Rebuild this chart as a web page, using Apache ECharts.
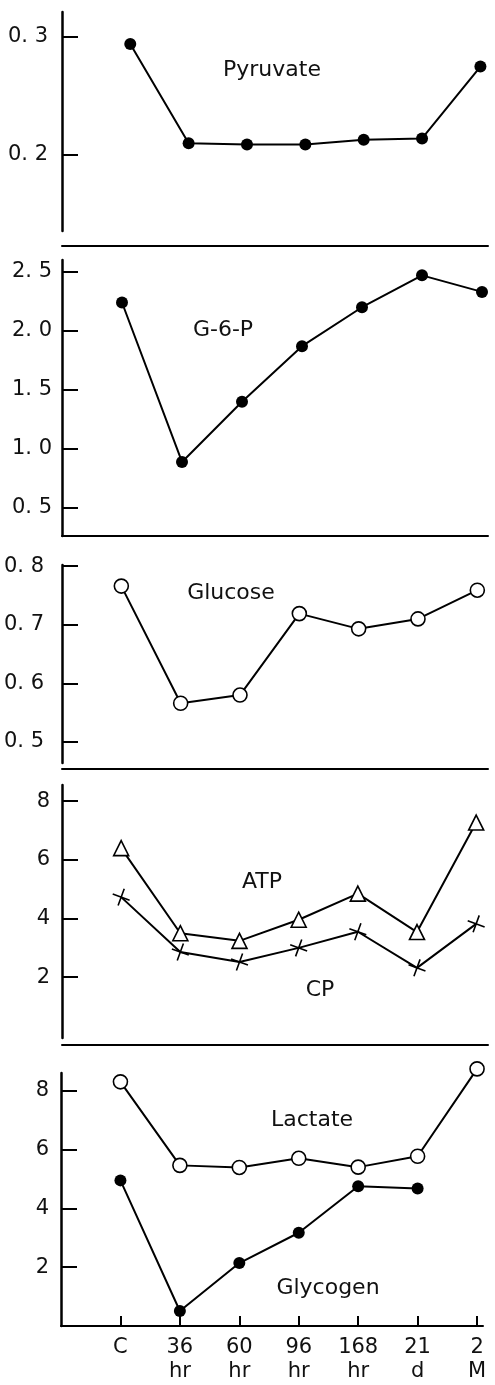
<!DOCTYPE html>
<html>
<head>
<meta charset="utf-8">
<script src="https://cdn.jsdelivr.net/npm/echarts@6/dist/echarts.min.js"></script>
<style>
  html, body { margin: 0; padding: 0; background: #fff; }
  #main { width: 495px; height: 1385px; }
</style>
</head>
<body>
<div id="main"></div>
<script>
// categories along the bottom axis
let categories = ['C', '36\nhr', '60\nhr', '96\nhr', '168\nhr', '21\nd', '2\nM'];

// values
let pyruvate = [0.294, 0.210, 0.209, 0.209, 0.213, 0.214, 0.275];
let g6p = [2.24, 0.89, 1.40, 1.87, 2.20, 2.47, 2.33];
let glucose = [0.766, 0.566, 0.580, 0.719, 0.693, 0.710, 0.759];
let atp = [6.4, 3.5, 3.24, 3.96, 4.85, 3.54, 7.27];
let cp = [4.73, 2.86, 2.52, 3.0, 3.55, 2.32, 3.82];
let lactate = [8.3, 5.46, 5.39, 5.7, 5.4, 5.77, 8.74];
let glycogen = [4.95, 0.51, 2.14, 3.17, 4.75, 4.67, null];

// y tick values per panel
let ticksPyruvate = [0.2, 0.3];
let ticksG6p = [0.5, 1.0, 1.5, 2.0, 2.5];
let ticksGlucose = [0.5, 0.6, 0.7, 0.8];
let ticksAtp = [2, 4, 6, 8];
let ticksLactate = [2, 4, 6, 8];
let xTicks = [0, 1, 2, 3, 4, 5, 6];

let font = 'DejaVu Sans';

function pairs(arr) {
    return arr.map(function (v, i) { return [i, v]; });
}
function dec(v) {
    return v.toFixed(1).replace('.', '. ');
}

function yAxis(idx, min, max, ticks, fmt, margin) {
    return {
        gridIndex: idx,
        type: 'value',
        min: min,
        max: max,
        axisLine: { show: true, onZero: false, lineStyle: { color: '#000', width: 2.5 } },
        axisTick: { show: true, inside: true, length: 16, customValues: ticks,
            lineStyle: { color: '#000', width: 2 } },
        axisLabel: { show: true, customValues: ticks, formatter: fmt, margin: margin,
            color: '#111', fontSize: 21, fontFamily: font },
        splitLine: { show: false }
    };
}

function xAxis(idx, min, max, offset) {
    return {
        gridIndex: idx,
        type: 'value',
        min: min,
        max: max,
        offset: offset,
        axisLine: { show: true, onZero: false, lineStyle: { color: '#000', width: 2 } },
        axisTick: { show: false },
        axisLabel: { show: false },
        splitLine: { show: false }
    };
}

let lineStyle = { color: '#000', width: 2 };
let filled = { color: '#000' };
let open = { color: '#fff', borderColor: '#000', borderWidth: 1.6 };

function serie(idx, name, arr, symbol, size, item) {
    return {
        name: name,
        type: 'line',
        xAxisIndex: idx,
        yAxisIndex: idx,
        data: pairs(arr),
        symbol: symbol,
        symbolSize: size,
        showAllSymbol: true,
        connectNulls: false,
        clip: false,
        lineStyle: lineStyle,
        itemStyle: item,
        z: 3
    };
}

function label(text, x, y) {
    return {
        type: 'text',
        x: x,
        y: y,
        style: { text: text, fill: '#111', font: '22px "' + font + '"',
            align: 'center', verticalAlign: 'middle' }
    };
}

let bottomX = {
    gridIndex: 4,
    type: 'value',
    min: -1,
    max: 6.1,
    axisLine: { show: true, onZero: false, lineStyle: { color: '#000', width: 2 } },
    axisTick: { show: true, inside: true, length: 10, customValues: xTicks,
        lineStyle: { color: '#000', width: 2 } },
    axisLabel: { show: true, customValues: xTicks, margin: 10,
        formatter: function (v) { return categories[Math.round(v)] || ''; },
        color: '#111', fontSize: 21, lineHeight: 24, fontFamily: font },
    splitLine: { show: false }
};

let myChart = echarts.init(document.getElementById('main'));
let option = {
    backgroundColor: '#fff',
    animation: false,
    grid: [
        { left: 62, top: 12, width: 426, height: 219 },
        { left: 62, top: 260, width: 426, height: 276 },
        { left: 62, top: 565, width: 426, height: 198 },
        { left: 62, top: 785, width: 426, height: 253 },
        { left: 61, top: 1073, width: 422, height: 253 }
    ],
    xAxis: [
        xAxis(0, -1.17, 6.13, 15),
        xAxis(1, -1.0, 6.1, 0),
        xAxis(2, -1.0, 6.18, 6),
        xAxis(3, -1.0, 6.2, 7),
        bottomX
    ],
    yAxis: [
        yAxis(0, 0.1356, 0.3212, ticksPyruvate, dec, 14),
        yAxis(1, 0.263, 2.60, ticksG6p, dec, 10),
        yAxis(2, 0.464, 0.802, ticksGlucose, dec, 18),
        yAxis(3, -0.07, 8.55, ticksAtp, function (v) { return String(v); }, 12),
        yAxis(4, 0, 8.6, ticksLactate, function (v) { return String(v); }, 12)
    ],
    graphic: [
        label('Pyruvate', 272, 70),
        label('G-6-P', 223, 330),
        label('Glucose', 231, 593),
        label('ATP', 262, 882),
        label('CP', 320, 990),
        label('Lactate', 312, 1120),
        label('Glycogen', 328, 1288)
    ],
    series: [
        serie(0, 'Pyruvate', pyruvate, 'circle', 12, filled),
        serie(1, 'G-6-P', g6p, 'circle', 12, filled),
        serie(2, 'Glucose', glucose, 'circle', 14, open),
        serie(3, 'ATP', atp, 'triangle', 15, open),
        Object.assign(serie(3, 'CP', cp, 'path://M0,10 L20,10 M10,0 L10,20', 18,
            { color: 'none', borderColor: '#000', borderWidth: 1.6 }), { symbolRotate: -20 }),
        serie(4, 'Lactate', lactate, 'circle', 14, open),
        serie(4, 'Glycogen', glycogen, 'circle', 12, filled)
    ]
};
myChart.setOption(option);
</script>
</body>
</html>
